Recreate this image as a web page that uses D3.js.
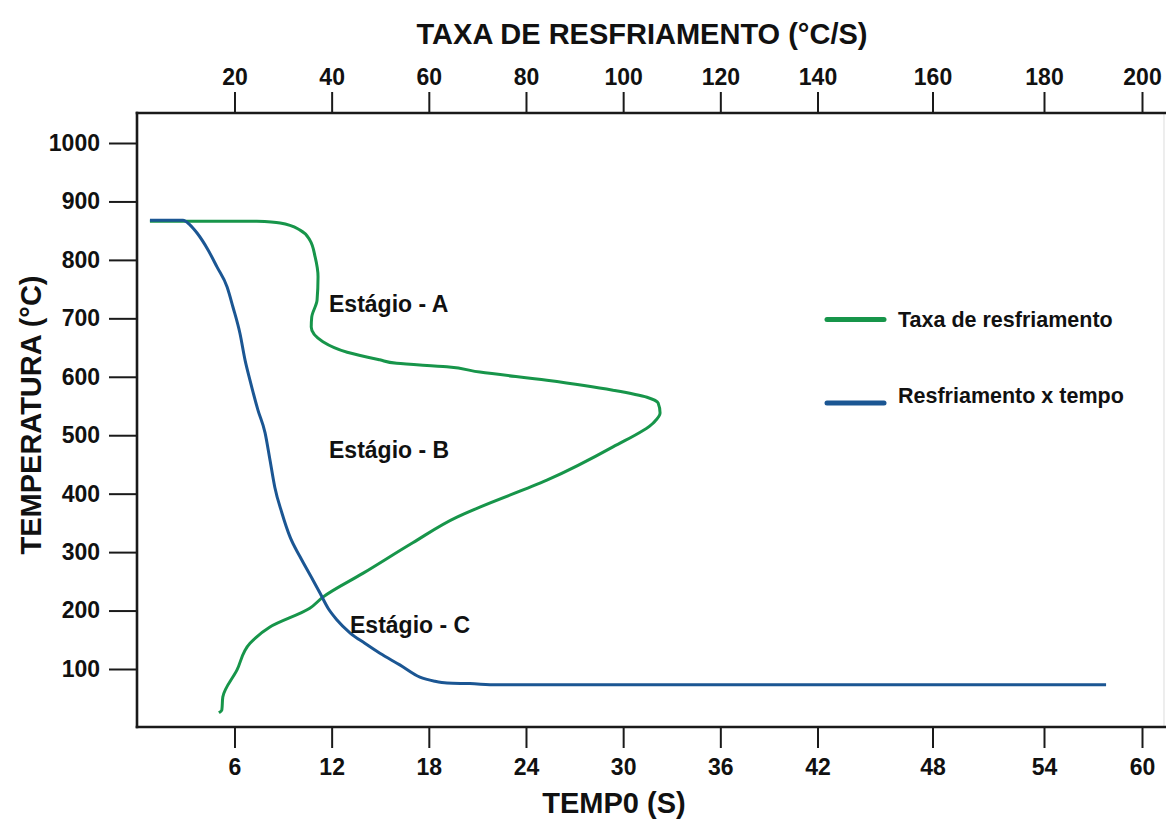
<!DOCTYPE html>
<html>
<head>
<meta charset="utf-8">
<script src="https://cdn.jsdelivr.net/npm/d3@7"></script>
<style>
  body { margin: 0; background: #ffffff; }
  svg { display: block; }
  text { font-family: "Liberation Sans", Arial, Helvetica, sans-serif; font-weight: bold; fill: #111111; }
</style>
</head>
<body>
<svg id="chart" width="1166" height="822"></svg>
<script>
// ---- data ----
const timeTicks = [6, 12, 18, 24, 30, 36, 42, 48, 54, 60];           // s
const rateTicks = [20, 40, 60, 80, 100, 120, 140, 160, 180, 200];    // °C/s
const tempTicks = [100, 200, 300, 400, 500, 600, 700, 800, 900, 1000]; // °C

// temperature vs. time (blue curve)
const coolTime = [0.78, 2.82, 3.25, 3.69, 4.37, 4.92, 5.54, 5.91, 6.34, 6.65, 6.96, 7.45, 7.89, 8.19, 8.49, 8.93,
                  9.43, 10.05, 10.85, 11.28, 11.78, 12.33, 13.13, 14.05, 14.98, 16.21, 17.45, 18.38, 19.12, 20.54, 22.2, 57.8];
const coolTemp = [868, 868, 860, 846, 817, 788, 754, 719, 674, 629, 594, 543, 504, 458, 411, 367,
                  326, 292, 252, 230, 204, 184, 162, 144, 127, 107, 86, 79, 76, 75, 73, 73];

// cooling rate vs. temperature (green curve)
const rateValues = [2.6, 24.6, 29.4, 33.5, 35.5, 36.6, 37.2, 37.0, 35.9, 35.8, 38.2, 43.2, 49.9, 53.4, 63.7, 70.5,
                    84.3, 97.9, 104.9, 107.2, 107.6, 106.2, 97.9, 84.3, 70.5, 65.8, 56.7, 46.5, 38.2, 35.5, 27.3, 23.2,
                    20.5, 17.6, 17.4, 16.8];
const rateTemp = [866, 866, 863, 851, 834, 805, 771, 731, 702, 685, 660, 642, 629, 623, 617, 608,
                  594, 577, 565, 555, 538, 521, 480, 423, 377, 360, 316, 264, 223, 204, 172, 144,
                  98, 52, 30, 25];

const seriesNames = ["Taxa de resfriamento", "Resfriamento x tempo"];
const stageNames = ["Estágio - A", "Estágio - B", "Estágio - C"];
const titleTop = "TAXA DE RESFRIAMENTO (°C/S)";
const titleBottom = "TEMP0 (S)";
const titleLeft = "TEMPERATURA (°C)";

// ---- layout ----
const plot = { left: 137, right: 1164, top: 113, bottom: 727 };
const green = "#17954a";
const blue = "#1b5693";

// The time axis is drawn with uneven spacing past 42 s; the rate axis shares the same positions (rate = time · 10/3).
const xStops = [137.3, 817.5, 932.5, 1044, 1142];
const x = d3.scaleLinear().domain([0, 42, 48, 54, 60]).range(xStops);
const xTop = d3.scaleLinear().domain([0, 140, 160, 180, 200]).range(xStops);
const y = d3.scaleLinear().domain([100, 1000]).range([669, 143]);

const svg = d3.select("#chart");

// frame
const frame = svg.append("g").attr("stroke-linecap", "square");
frame.append("line").attr("x1", plot.right).attr("x2", plot.right).attr("y1", plot.top).attr("y2", plot.bottom)
  .attr("stroke", "#e2e2e2").attr("stroke-width", 1.2);
frame.append("line").attr("x1", plot.left).attr("x2", 1166).attr("y1", plot.top).attr("y2", plot.top)
  .attr("stroke", "#1a1a1a").attr("stroke-width", 2.6);
frame.append("line").attr("x1", plot.left).attr("x2", 1166).attr("y1", plot.bottom).attr("y2", plot.bottom)
  .attr("stroke", "#1a1a1a").attr("stroke-width", 2.6);
frame.append("line").attr("x1", plot.left).attr("x2", plot.left).attr("y1", plot.top).attr("y2", plot.bottom)
  .attr("stroke", "#1a1a1a").attr("stroke-width", 2.6);

function styleAxis(g) {
  g.select(".domain").remove();
  g.selectAll(".tick line").attr("stroke", "#1a1a1a").attr("stroke-width", 2);
  g.selectAll(".tick text").attr("fill", "#111").style("font-size", "23px")
    .style("font-family", '"Liberation Sans", Arial, sans-serif').style("font-weight", "bold");
}

svg.append("g").attr("transform", `translate(0,${plot.bottom})`)
  .call(d3.axisBottom(x).tickValues(timeTicks).tickSize(21).tickPadding(11).tickFormat(d3.format("d")))
  .call(styleAxis);

svg.append("g").attr("transform", `translate(0,${plot.top})`)
  .call(d3.axisTop(xTop).tickValues(rateTicks).tickSize(21).tickPadding(7).tickFormat(d3.format("d")))
  .call(styleAxis);

svg.append("g").attr("transform", `translate(${plot.left},0)`)
  .call(d3.axisLeft(y).tickValues(tempTicks).tickSize(28).tickPadding(9).tickFormat(d3.format("d")))
  .call(styleAxis);

// axis titles
svg.append("text").attr("x", 642).attr("y", 44).attr("text-anchor", "middle")
  .style("font-size", "29px").text(titleTop);
svg.append("text").attr("x", 614).attr("y", 813).attr("text-anchor", "middle")
  .style("font-size", "29px").text(titleBottom);
svg.append("text").attr("transform", "translate(41,415) rotate(-90)").attr("text-anchor", "middle")
  .style("font-size", "29px").text(titleLeft);

// curves
const rateData = rateValues.map((r, i) => ({ r, T: rateTemp[i] }));
const coolData = coolTime.map((t, i) => ({ t, T: coolTemp[i] }));

// the rate curve falls steadily in temperature, the time curve advances steadily in time
svg.append("path").datum(rateData)
  .attr("fill", "none").attr("stroke", green).attr("stroke-width", 3).attr("stroke-linejoin", "round")
  .attr("d", d3.line().x(d => xTop(d.r)).y(d => y(d.T)).curve(d3.curveMonotoneY));

svg.append("path").datum(coolData)
  .attr("fill", "none").attr("stroke", blue).attr("stroke-width", 3).attr("stroke-linejoin", "round")
  .attr("d", d3.line().x(d => x(d.t)).y(d => y(d.T)).curve(d3.curveMonotoneX));

// stage annotations
const stagePos = [[329, 312], [329, 458], [350, 633]];
svg.selectAll("text.stage").data(stageNames).join("text").attr("class", "stage")
  .attr("x", (d, i) => stagePos[i][0]).attr("y", (d, i) => stagePos[i][1])
  .style("font-size", "23px").text(d => d);

// legend
const legendRows = [
  { name: seriesNames[0], color: green, lineY: 319.5, textY: 327 },
  { name: seriesNames[1], color: blue, lineY: 403, textY: 403 }
];
const legend = svg.append("g");
legendRows.forEach(row => {
  legend.append("line").attr("x1", 827).attr("x2", 884).attr("y1", row.lineY).attr("y2", row.lineY)
    .attr("stroke", row.color).attr("stroke-width", 5).attr("stroke-linecap", "round");
  legend.append("text").attr("x", 898).attr("y", row.textY).style("font-size", "21.5px").text(row.name);
});
</script>
</body>
</html>
